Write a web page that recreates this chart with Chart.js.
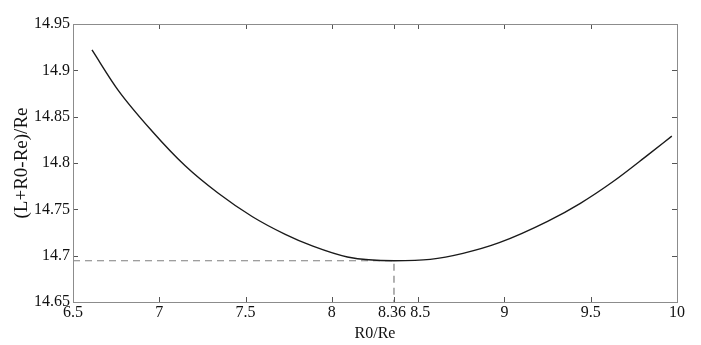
<!DOCTYPE html>
<html>
<head>
<meta charset="utf-8">
<script src="https://cdn.jsdelivr.net/npm/chart.js@4/dist/chart.umd.min.js"></script>
<style>
  html, body { margin: 0; padding: 0; background: #fff; font-family: "Liberation Serif", serif; }
  #wrap { width: 701px; height: 345px; }
</style>
</head>
<body>
<div id="wrap"><canvas id="c" width="701" height="345"></canvas></div>
<script>
// values
const r0Re = [6.61, 6.76, 6.96, 7.15, 7.34, 7.54, 7.73, 7.89, 8.09, 8.36, 8.57, 8.76, 8.97, 9.25, 9.44, 9.63, 9.83, 9.97];
const ratio = [14.922, 14.879, 14.834, 14.797, 14.7676, 14.742, 14.723, 14.7102, 14.6986, 14.6945, 14.696, 14.7025, 14.714, 14.737, 14.7565, 14.780, 14.8085, 14.829];

// optimum marked with dashed guides
const optX = 8.36;
const optY = 14.6945;

const xTicks = [6.5, 7, 7.5, 8, 8.36, 8.5, 9, 9.5, 10];
const yTicks = [14.65, 14.7, 14.75, 14.8, 14.85, 14.9, 14.95];

const serif = '"Liberation Serif", "Times New Roman", serif';
Chart.defaults.font.family = serif;
Chart.defaults.font.size = 16;
Chart.defaults.color = '#111';

// MATLAB style ticks pointing inwards, on all four sides
const innerTicks = {
  id: 'innerTicks',
  afterDraw(chart) {
    const ctx = chart.ctx;
    const a = chart.chartArea;
    const xs = chart.scales.x, ys = chart.scales.y;
    const len = 5;
    ctx.save();
    ctx.strokeStyle = '#555';
    ctx.lineWidth = 1;
    ctx.beginPath();
    xTicks.forEach(v => {
      const px = Math.round(xs.getPixelForValue(v)) + 0.5;
      ctx.moveTo(px, a.bottom); ctx.lineTo(px, a.bottom - len);
      ctx.moveTo(px, a.top); ctx.lineTo(px, a.top + len);
    });
    yTicks.forEach(v => {
      const py = Math.round(ys.getPixelForValue(v)) + 0.5;
      ctx.moveTo(a.left, py); ctx.lineTo(a.left + len, py);
      ctx.moveTo(a.right, py); ctx.lineTo(a.right - len, py);
    });
    ctx.stroke();
    // box
    ctx.strokeStyle = '#8c8c8c';
    ctx.strokeRect(Math.round(a.left) + 0.5, Math.round(a.top) + 0.5, Math.round(a.right - a.left), Math.round(a.bottom - a.top));
    ctx.restore();
  }
};

// 8.36 and 8.5 sit close together, nudge them apart a little
function xLabel(v) {
  const s = String(+v.toFixed(2));
  if (v === optX) return s + ' ';
  if (v === 8.5) return ' ' + s;
  return s;
}

function draw() {
  new Chart(document.getElementById('c'), {
    type: 'scatter',
    data: {
      datasets: [
        {
          data: r0Re.map((x, i) => ({ x: x, y: ratio[i] })),
          showLine: true,
          borderColor: '#1a1a1a',
          borderWidth: 1.4,
          pointRadius: 0,
          cubicInterpolationMode: 'monotone'
        },
        {
          data: [{ x: 6.5, y: optY }, { x: optX, y: optY }, { x: optX, y: 14.65 }],
          showLine: true,
          borderColor: '#7f7f7f',
          borderWidth: 1.2,
          borderDash: [7, 5],
          pointRadius: 0,
          tension: 0
        }
      ]
    },
    options: {
      responsive: false,
      animation: false,
      layout: { padding: { top: 24, right: 24, left: 0, bottom: 0 } },
      plugins: { legend: { display: false }, tooltip: { enabled: false } },
      scales: {
        x: {
          type: 'linear',
          min: 6.5,
          max: 10,
          afterBuildTicks: s => { s.ticks = xTicks.map(v => ({ value: v })); },
          afterFit: s => { s.height = 43; },
          grid: { display: false, drawTicks: false },
          border: { display: false },
          ticks: {
            font: { family: serif, size: 16 },
            padding: 1,
            maxRotation: 0,
            autoSkip: false,
            callback: xLabel
          },
          title: {
            display: true,
            text: 'R0/Re',
            font: { family: serif, size: 16 },
            padding: { top: 0, bottom: 2 }
          }
        },
        y: {
          type: 'linear',
          min: 14.65,
          max: 14.95,
          afterBuildTicks: s => { s.ticks = yTicks.map(v => ({ value: v })); },
          afterFit: s => { s.width = 73; },
          grid: { display: false, drawTicks: false },
          border: { display: false },
          ticks: {
            font: { family: serif, size: 16 },
            padding: 3,
            autoSkip: false,
            callback: v => String(+v.toFixed(2))
          },
          title: {
            display: true,
            text: '(L+R0-Re)/Re',
            font: { family: serif, size: 19 },
            padding: { top: 11, bottom: 0 }
          }
        }
      }
    },
    plugins: [innerTicks]
  });
}

if (document.fonts && document.fonts.load) {
  document.fonts.load('16px "Liberation Serif"').then(draw, draw);
} else {
  draw();
}
</script>
</body>
</html>
